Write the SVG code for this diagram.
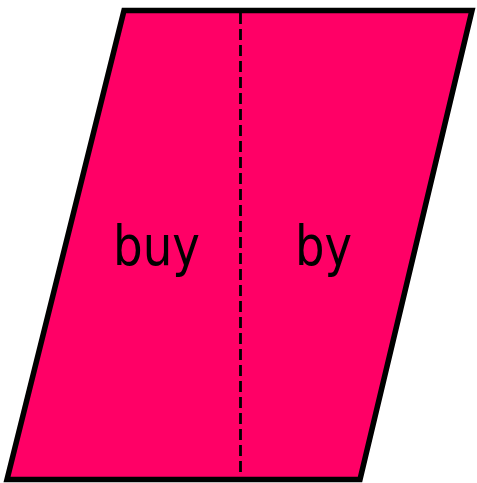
<svg xmlns="http://www.w3.org/2000/svg" width="477" height="483" viewBox="0 0 477 483">
<style>
.shape{fill:#ff0066;stroke:#000;stroke-width:5.5;stroke-linejoin:miter}
.div{stroke:#000;stroke-width:2.8;stroke-dasharray:11,5;fill:none}
.lbl{font-family:"DejaVu Sans",sans-serif;font-size:56px;fill:#000;text-anchor:middle}
</style>
<g id="parallelogram">
<polygon class="shape" points="124,10.5 472,10.5 360,479.5 7,479.5"/>
</g>
<g id="connectors">
<line class="div" x1="240.5" y1="13" x2="240.5" y2="477"/>
</g>
<g id="node-buy">
<text class="lbl" x="156.5" y="265" textLength="87" lengthAdjust="spacingAndGlyphs">buy</text>
</g>
<g id="node-by">
<text class="lbl" x="323.5" y="265" textLength="57" lengthAdjust="spacingAndGlyphs">by</text>
</g>
</svg>
